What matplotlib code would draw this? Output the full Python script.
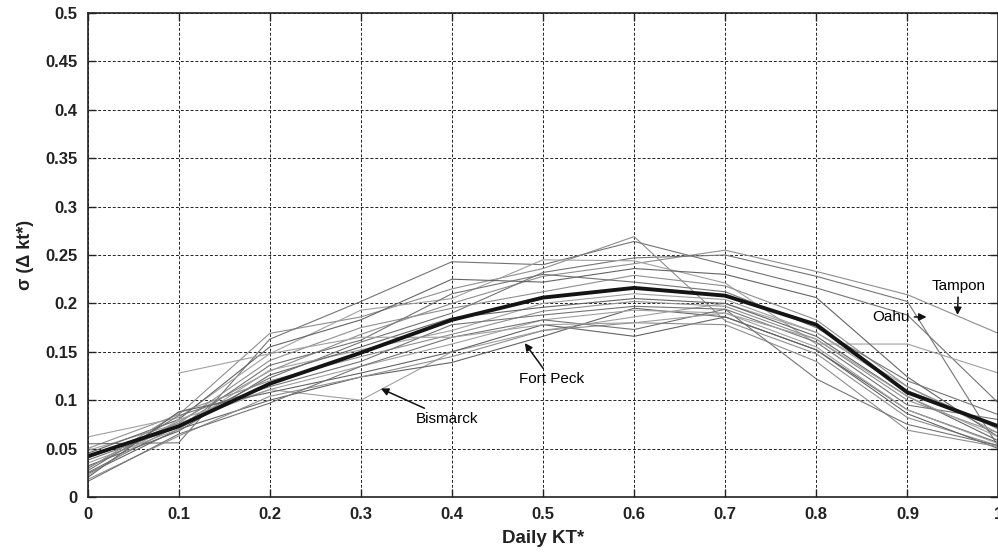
import numpy as np
import matplotlib.pyplot as plt

plt.rcParams['font.family'] = ['Liberation Sans', 'DejaVu Sans']

kt = np.arange(0, 1.01, 0.1)

# per-site standard deviation curves
tampon   = [0.030, 0.078, 0.130, 0.168, 0.200, 0.228, 0.241, 0.255, 0.233, 0.209, 0.169]
oahu     = [0.025, 0.074, 0.123, 0.160, 0.190, 0.232, 0.247, 0.250, 0.228, 0.202, 0.052]
bismarck = [0.048, 0.076, 0.111, 0.100, 0.150, 0.172, 0.186, 0.200, 0.170, 0.114, 0.066]
fortpeck = [0.024, 0.070, 0.100, 0.124, 0.139, 0.166, 0.195, 0.186, 0.152, 0.090, 0.056]
others = [
    [0.050, 0.085, 0.169, 0.186, 0.215, 0.236, 0.269, 0.182, 0.148, 0.082, 0.053],
    [0.055, 0.056, 0.163, 0.202, 0.243, 0.240, 0.264, 0.240, 0.216, 0.188, 0.097],
    [0.062, 0.082, 0.148, 0.193, 0.205, 0.245, 0.244, 0.221, 0.158, 0.158, 0.128],
    [0.045, 0.080, 0.155, 0.183, 0.225, 0.222, 0.236, 0.230, 0.206, 0.124, 0.062],
    [0.040, 0.076, 0.141, 0.175, 0.195, 0.212, 0.229, 0.218, 0.183, 0.114, 0.070],
    [0.038, 0.072, 0.136, 0.162, 0.210, 0.230, 0.222, 0.212, 0.175, 0.120, 0.085],
    [0.035, 0.070, 0.131, 0.152, 0.172, 0.200, 0.210, 0.204, 0.170, 0.110, 0.073],
    [0.032, 0.068, 0.126, 0.155, 0.185, 0.196, 0.205, 0.200, 0.166, 0.104, 0.058],
    [0.029, 0.087, 0.120, 0.145, 0.168, 0.192, 0.202, 0.197, 0.163, 0.100, 0.066],
    [0.027, 0.084, 0.114, 0.140, 0.178, 0.188, 0.197, 0.194, 0.160, 0.095, 0.080],
    [0.022, 0.080, 0.111, 0.135, 0.158, 0.183, 0.193, 0.190, 0.155, 0.090, 0.055],
    [0.020, 0.088, 0.108, 0.128, 0.150, 0.178, 0.166, 0.186, 0.152, 0.086, 0.050],
    [0.018, 0.063, 0.104, 0.124, 0.145, 0.172, 0.180, 0.178, 0.140, 0.069, 0.052],
    [0.016, 0.065, 0.097, 0.135, 0.165, 0.183, 0.173, 0.194, 0.122, 0.075, 0.053],
    [np.nan, 0.128, 0.148, 0.165, 0.165, 0.178, 0.180, 0.190, 0.163, 0.104, 0.062],
]
mean_sd = [0.042, 0.073, 0.117, 0.149, 0.183, 0.206, 0.216, 0.208, 0.178, 0.108, 0.073]

fig = plt.figure(figsize=(9.98, 5.55), dpi=100)
ax = fig.add_axes([0.0877, 0.1045, 0.9128, 0.8721])

greys = ['#8e8e8e', '#747474', '#a0a0a0', '#646464']
sites = [tampon, oahu, bismarck, fortpeck] + others
for i, s in enumerate(sites):
    ax.plot(kt, s, color=greys[i % len(greys)], lw=0.8)
ax.plot(kt, mean_sd, color='#141414', lw=2.8)

ax.set_xlim(0, 1)
ax.set_ylim(0, 0.5)
ax.set_xticks(kt)
ax.set_xticklabels(['0', '0.1', '0.2', '0.3', '0.4', '0.5', '0.6', '0.7', '0.8', '0.9', '1'])
yt = np.arange(0, 0.501, 0.05)
ax.set_yticks(yt)
ax.set_yticklabels(['0', '0.05', '0.1', '0.15', '0.2', '0.25', '0.3', '0.35', '0.4', '0.45', '0.5'])
ax.tick_params(direction='in', length=6, width=1, top=True, right=True,
               labelsize=12, pad=7, colors='#222222')
for lab in ax.get_xticklabels() + ax.get_yticklabels():
    lab.set_fontweight('bold')
for sp in ax.spines.values():
    sp.set_linewidth(1.2)
    sp.set_color('#222222')
ax.grid(True, color='#222222', linestyle=(0, (3, 2)), linewidth=0.7)
ax.set_axisbelow(True)

ax.set_xlabel('Daily KT*', fontsize=13.5, fontweight='bold', labelpad=6, color='#222222')
ax.set_ylabel('σ (Δ kt*)', fontsize=13, fontweight='bold', labelpad=8, color='#222222')

arrow = dict(arrowstyle='-|>', color='#111111', lw=1.1, mutation_scale=11, shrinkA=1, shrinkB=0)
ax.annotate('Bismarck', xy=(0.322, 0.112), xytext=(0.395, 0.081), fontsize=11,
            ha='center', va='center', arrowprops=arrow)
ax.annotate('Fort Peck', xy=(0.480, 0.159), xytext=(0.509, 0.1215), fontsize=11,
            ha='center', va='center', arrowprops=arrow)
ax.annotate('Oahu', xy=(0.921, 0.186), xytext=(0.903, 0.186), fontsize=11,
            ha='right', va='center', arrowprops=arrow)
ax.annotate('Tampon', xy=(0.955, 0.188), xytext=(0.956, 0.218), fontsize=11,
            ha='center', va='center', arrowprops=arrow)

fig.savefig('out.png', dpi=100)
